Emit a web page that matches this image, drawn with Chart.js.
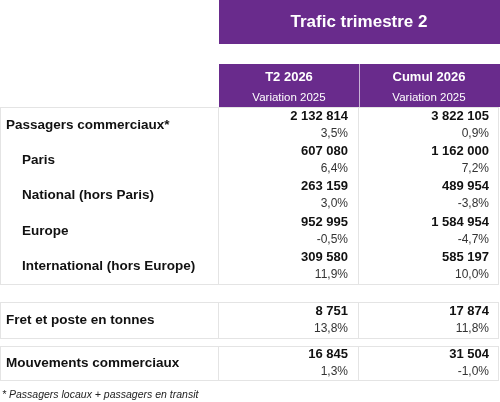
<!DOCTYPE html>
<html>
<head>
<meta charset="utf-8">
<script src="https://cdn.jsdelivr.net/npm/chart.js@4/dist/chart.umd.min.js"></script>
<style>
  body { margin: 0; background: #fff; }
  #wrap { width: 500px; height: 402px; }
</style>
</head>
<body>
<div id="wrap"><canvas id="myChart"></canvas></div>
<script>
"use strict";

const title = "Trafic trimestre 2";
const columns = ["T2 2026", "Cumul 2026"];
const subHeader = "Variation 2025";
const rowLabels = ["Passagers commerciaux*", "Paris", "National (hors Paris)", "Europe",
   "International (hors Europe)", "Fret et poste en tonnes", "Mouvements commerciaux"];
const indented = [false, true, true, true, true, false, false];
const t2Values = ["2 132 814", "607 080", "263 159", "952 995", "309 580", "8 751", "16 845"];
const t2Change = ["3,5%", "6,4%", "3,0%", "-0,5%", "11,9%", "13,8%", "1,3%"];
const cumulValues = ["3 822 105", "1 162 000", "489 954", "1 584 954", "585 197", "17 874", "31 504"];
const cumulChange = ["0,9%", "7,2%", "-3,8%", "-4,7%", "10,0%", "11,8%", "-1,0%"];
const footnote = "* Passagers locaux + passagers en transit";

// row centre positions (px)
const rowY = [125, 160, 195, 231, 266, 320, 363];
const blocks = [[107, 284], [302, 338], [346, 380]];

const PURPLE = "#692b8c";
const FONT = "'Liberation Sans', Arial, sans-serif";

const tablePlugin = {
   id: "table",
   afterDraw(chart) {
      const c = chart.ctx;
      c.save();
      // header
      c.fillStyle = PURPLE;
      c.fillRect(219, 0, 281, 44);
      c.fillRect(219, 64, 281, 43);
      c.strokeStyle = "#c9b3d6";
      c.lineWidth = 1;
      c.beginPath(); c.moveTo(359.5, 64); c.lineTo(359.5, 107); c.stroke();
      c.fillStyle = "#fff";
      c.textAlign = "center"; c.textBaseline = "middle";
      c.font = "bold 17px " + FONT;
      c.fillText(title, 359, 22);
      columns.forEach((col, i) => {
         const cx = 289 + i * 140;
         c.font = "bold 13px " + FONT;
         c.fillText(col, cx, 77);
         c.font = "11.5px " + FONT;
         c.fillText(subHeader, cx, 98);
      });
      // block borders
      c.strokeStyle = "#e4e4e4";
      blocks.forEach(([y0, y1]) => {
         c.strokeRect(0.5, y0 + 0.5, 498, y1 - y0);
         c.beginPath();
         c.moveTo(218.5, y0); c.lineTo(218.5, y1);
         c.moveTo(358.5, y0); c.lineTo(358.5, y1);
         c.stroke();
      });
      // rows
      rowLabels.forEach((lab, i) => {
         const y = rowY[i];
         c.fillStyle = "#111";
         c.textAlign = "left";
         c.font = "bold 13.5px " + FONT;
         c.fillText(lab, indented[i] ? 22 : 6, y);
         c.textAlign = "right";
         [[t2Values, t2Change, 348], [cumulValues, cumulChange, 489]].forEach(([v, ch, x]) => {
            c.fillStyle = "#111";
            c.font = "bold 13px " + FONT;
            c.fillText(v[i], x, y - 9);
            c.fillStyle = "#333";
            c.font = "12px " + FONT;
            c.fillText(ch[i], x, y + 9);
         });
      });
      c.textAlign = "left";
      c.fillStyle = "#222";
      c.font = "italic 10.5px " + FONT;
      c.fillText(footnote, 2, 395);
      c.restore();
   }
};

const ctx = document.getElementById("myChart").getContext("2d");
const myChart = new Chart(ctx, {
   type: "bar",
   data: {
      labels: rowLabels,
      datasets: [{ label: "table", data: [], backgroundColor: "rgba(0,0,0,0)" }],
   },
   options: {
      responsive: true,
      maintainAspectRatio: false,
      animation: false,
      layout: { padding: 0 },
      plugins: { legend: { display: false }, tooltip: { enabled: false } },
      scales: { x: { display: false }, y: { display: false } },
   },
   plugins: [tablePlugin],
});
</script>
</body>
</html>
